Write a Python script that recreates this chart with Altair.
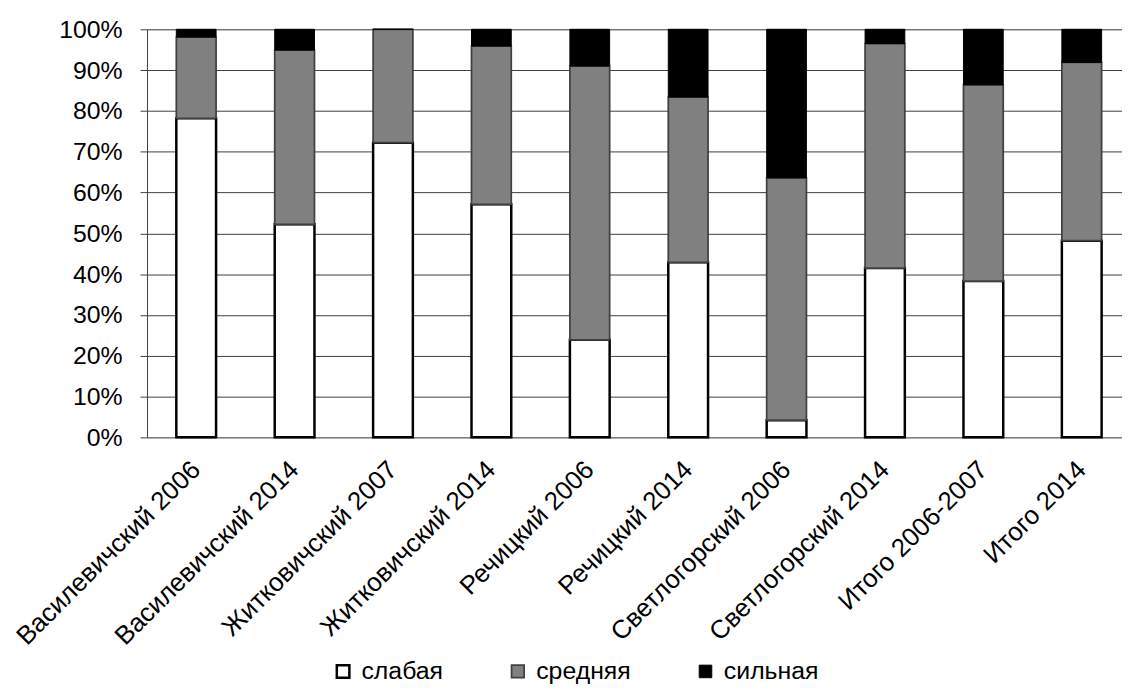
import altair as alt
import pandas as pd

categories = [
    "Василевичский 2006", "Василевичский 2014", "Житковичский 2007",
    "Житковичский 2014", "Речицкий 2006", "Речицкий 2014",
    "Светлогорский 2006", "Светлогорский 2014", "Итого 2006-2007", "Итого 2014",
]
levels = ["слабая", "средняя", "сильная"]
weak = [78.2, 52.2, 72.2, 57.1, 23.9, 42.9, 4.2, 41.5, 38.3, 48.2]
mid = [19.9, 42.7, 27.8, 38.8, 67.1, 40.5, 59.4, 55.0, 48.1, 43.7]
strong = [1.9, 5.1, 0.0, 4.1, 9.0, 16.6, 36.4, 3.5, 13.6, 8.1]
y_ticks = [0, 0.1, 0.2, 0.3, 0.4, 0.5, 0.6, 0.7, 0.8, 0.9, 1.0]

rows = []
for lvl_i, (lvl, vals) in enumerate(zip(levels, [weak, mid, strong])):
    for c, v in zip(categories, vals):
        rows.append({"cat": c, "level": lvl, "ord": lvl_i, "val": v})
df = pd.DataFrame(rows)

FONT = "Liberation Sans"

chart = alt.Chart(df).mark_bar().encode(
    x=alt.X(
        "cat:N", sort=categories,
        scale=alt.Scale(range=[0, 991], paddingInner=0.596, paddingOuter=0.298),
        axis=alt.Axis(title=None, labelAngle=-45, labelAlign="right", labelBaseline="middle",
                      ticks=False, domain=False, labelFontSize=26, labelFont=FONT,
                      labelColor="black", labelPadding=28, labelLimit=500, grid=False),
    ),
    y=alt.Y(
        "val:Q", stack="normalize",
        scale=alt.Scale(domain=[0, 1], nice=False),
        axis=alt.Axis(title=None, format=".0%", values=y_ticks, tickSize=7,
                      tickColor="#404040", domainColor="#404040", labelFontSize=25,
                      labelFont=FONT, labelColor="black", labelPadding=18,
                      grid=True, gridColor="#404040", gridWidth=1),
    ),
    color=alt.Color(
        "level:N", sort=levels,
        scale=alt.Scale(domain=levels, range=["#ffffff", "#808080", "#000000"]),
        legend=alt.Legend(orient="none", legendX=185, legendY=634, direction="horizontal",
                          title=None, symbolType="square", symbolSize=160,
                          symbolStrokeColor="black", symbolStrokeWidth=1.2,
                          labelFontSize=25, labelFont=FONT, labelColor="black",
                          columnPadding=62, labelOffset=6),
    ),
    stroke=alt.Stroke("level:N", scale=alt.Scale(domain=levels, range=["#000000", "#404040", "#000000"]), legend=None),
    strokeWidth=alt.StrokeWidth("level:O", scale=alt.Scale(domain=levels, range=[2.5, 1, 1]), legend=None),
    order=alt.Order("ord:Q"),
).properties(
    width=982, height=411,
    autosize=alt.AutoSizeParams(type="none"),
    padding={"left": 140, "top": 19, "right": 0, "bottom": 252},
).configure_view(stroke=None).configure(font=FONT)

chart.save("out.html", embed_options={"renderer": "svg", "actions": False})
